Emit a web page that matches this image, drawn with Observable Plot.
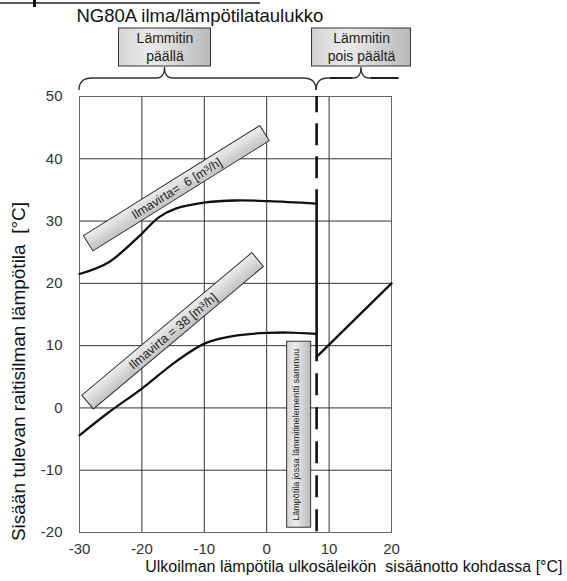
<!DOCTYPE html>
<html><head><meta charset="utf-8">
<script src="https://cdn.jsdelivr.net/npm/d3@7"></script>
<script src="https://cdn.jsdelivr.net/npm/@observablehq/plot@0.6"></script>
<style>body{margin:0;background:#fff} svg{display:block}</style>
</head><body><div id="chart"></div>
<script>
// ---- data ----
const xTicks = [-30, -20, -10, 0, 10, 20];
const yTicks = [-20, -10, 0, 10, 20, 30, 40, 50];

const flow6X  = [-30, -25.3, -20, -17.3, -14.6, -9.8, -5, 0.3, 8];
const flow6Y  = [21.5, 23.4, 28.0, 30.6, 32.0, 33.0, 33.3, 33.2, 32.8];
const flow38X = [-30, -25.3, -20, -14.6, -9.8, -5, 0.3, 3.5, 8];
const flow38Y = [-4.4, -0.7, 3.1, 7.4, 10.4, 11.6, 12.05, 12.1, 11.9];

const cutoffX = 8;
const offX = [8, 20];
const offY = [8.2, 20];

const titleText = "NG80A ilma/lämpötilataulukko";
const xLabel = "Ulkoilman lämpötila ulkosäleikön  sisäänotto kohdassa [°C]";
const yLabel = "Sisään tulevan raitisilman lämpötila  [°C]";

const heaterLabels = ["Lämmitin\npäällä", "Lämmitin\npois päältä"];
const heaterLabelX = [-16.3, 15.2];
const heaterRanges = [[-30, 8], [8, 21.2]];

const flowLabels = ["Ilmavirta=  6 [m³/h]", "Ilmavirta = 38 [m³/h]"];
const flowLabelX = [-14.4, -15.0];
const flowLabelY = [35.2, 12.3];
const flowLabelAngle = [-32, -40];

const cutoffLabel = "Lämpötila jossa lämmitinelementti sammuu";
const cutoffLabelX = 5.2;
const cutoffLabelY = -4.3;

// ---- tables ----
const flow6 = flow6X.map((x, i) => ({x, y: flow6Y[i]}));
const flow38 = flow38X.map((x, i) => ({x, y: flow38Y[i]}));
const offLine = offX.map((x, i) => ({x, y: offY[i]}));
const heaters = heaterLabels.map((t, i) => ({t, x: heaterLabelX[i]}));
const flows = flowLabels.map((t, i) => ({t, x: flowLabelX[i], y: flowLabelY[i], a: flowLabelAngle[i]}));

const yTop = 50, yBottom = -20;
const FONT = '"Liberation Sans", Arial, Helvetica, sans-serif';

const chart = Plot.plot({
  width: 567, height: 581,
  marginLeft: 79, marginRight: 176, marginTop: 96, marginBottom: 49,
  style: {fontFamily: FONT, fontSize: "15px", color: "#333", background: "#fff", overflow: "visible"},
  x: {domain: [-30, 20], ticks: xTicks, tickFormat: d => String(d), tickSize: 0, tickPadding: 11, label: null},
  y: {domain: [-20, 50], ticks: yTicks, tickFormat: d => String(d), tickSize: 0, tickPadding: 17, label: null},
  marks: [
    Plot.ruleX(xTicks, {stroke: "#333", strokeWidth: 1}),
    Plot.ruleY(yTicks, {stroke: "#333", strokeWidth: 1}),
    Plot.frame({stroke: "#666"}),
    Plot.line(flow6, {x: "x", y: "y", curve: "catmull-rom", stroke: "#111", strokeWidth: 2.3}),
    Plot.line(flow38, {x: "x", y: "y", curve: "catmull-rom", stroke: "#111", strokeWidth: 2.3}),
    Plot.line(offLine, {x: "x", y: "y", stroke: "#111", strokeWidth: 2.3}),
    Plot.ruleX([cutoffX], {x: d => d, y1: () => flow6Y[flow6Y.length - 1], y2: () => offY[0], stroke: "#111", strokeWidth: 2.6}),
    Plot.ruleX([cutoffX], {x: d => d, y1: () => flow6Y[flow6Y.length - 1], y2: () => yTop, stroke: "#111", strokeWidth: 2.6, strokeDasharray: "22,11", strokeDashoffset: 8}),
    Plot.ruleX([cutoffX], {x: d => d, y1: () => offY[0], y2: () => yBottom, stroke: "#111", strokeWidth: 2.6, strokeDasharray: "22,12", strokeDashoffset: 17}),
    // texts
    Plot.text([titleText], {text: d => d, frameAnchor: "top-left", textAnchor: "start", lineAnchor: "middle", dx: -3, dy: -80, fontSize: 18.5, fill: "#111"}),
    Plot.text([xLabel], {text: d => d, frameAnchor: "bottom-right", textAnchor: "end", lineAnchor: "middle", dx: 171, dy: 34, fontSize: 16, fill: "#111"}),
    Plot.text([yLabel], {text: d => d, frameAnchor: "left", textAnchor: "middle", lineAnchor: "middle", rotate: -90, dx: -61, dy: 57, fontSize: 19, fill: "#111"}),
    Plot.text(heaters, {x: "x", text: "t", frameAnchor: "top", lineAnchor: "middle", dy: -50, lineHeight: 1.28, fontSize: 14, fill: "#222"}),
    Plot.text([flows[0]], {x: "x", y: "y", text: "t", rotate: flows[0].a, fontSize: 12.5, fill: "#222"}),
    Plot.text([flows[1]], {x: "x", y: "y", text: "t", rotate: flows[1].a, fontSize: 12.5, fill: "#222"}),
    Plot.text([cutoffLabel], {x: () => cutoffLabelX, y: () => cutoffLabelY, text: d => d, rotate: -90, dx: -3, fontSize: 9, fill: "#222"})
  ]
});

document.getElementById("chart").appendChild(chart);

// ---- annotation boxes, drawn with the plot's scales ----
const svg = d3.select(chart);
const sx = chart.scale("x"), sy = chart.scale("y");
const X = v => sx.apply(v), Y = v => sy.apply(v);

const defs = svg.insert("defs", ":first-child");
const g1 = defs.append("linearGradient").attr("id", "gbox").attr("x1", 0).attr("x2", 1).attr("y1", 0).attr("y2", 0);
g1.append("stop").attr("offset", 0).attr("stop-color", "#d4d4d4");
g1.append("stop").attr("offset", 0.35).attr("stop-color", "#ececec");
g1.append("stop").attr("offset", 1).attr("stop-color", "#b9b9b9");
const g2 = defs.append("linearGradient").attr("id", "gbar").attr("x1", 0).attr("x2", 0).attr("y1", 0).attr("y2", 1);
g2.append("stop").attr("offset", 0).attr("stop-color", "#eeeeee");
g2.append("stop").attr("offset", 1).attr("stop-color", "#c2c2c2");

const firstText = chart.querySelector('g[aria-label="text"]');
const ann = svg.insert("g", () => firstText);

// heater state boxes
const heaterW = [92, 99];
heaters.forEach((h, i) => {
  ann.append("rect").attr("x", X(h.x) - heaterW[i] / 2).attr("y", 28).attr("width", heaterW[i]).attr("height", 38)
    .attr("fill", "url(#gbox)").attr("stroke", "#333").attr("stroke-width", 1);
});

// braces
function brace(x0, x1, xa) {
  const yb = 90, ym = 78, ya = 67;
  return `M${x0},${yb} Q${x0},${ym} ${x0 + 13},${ym} L${xa - 8},${ym} Q${xa},${ym} ${xa},${ya} Q${xa},${ym} ${xa + 8},${ym} L${x1 - 13},${ym} Q${x1},${ym} ${x1},${yb}`;
}
ann.append("path").attr("d", brace(X(heaterRanges[0][0]), X(heaterRanges[0][1]), X(heaterLabelX[0])))
  .attr("fill", "none").attr("stroke", "#333").attr("stroke-width", 1.3);
{
  const x0 = X(heaterRanges[1][0]), x1 = X(heaterRanges[1][1]), xa = X(heaterLabelX[1]);
  ann.append("path").attr("d", `M${x0},90 Q${x0},78 ${x0 + 12},78 L${xa - 8},78 Q${xa},78 ${xa},67 Q${xa},78 ${xa + 8},78 L${x1},78`)
    .attr("fill", "none").attr("stroke", "#333").attr("stroke-width", 1.3);
  ann.append("path").attr("d", `M${x0 + 14},78 L${xa - 9},78 M${xa + 10},78 L${x1},78`)
    .attr("fill", "none").attr("stroke", "#222").attr("stroke-width", 2.2);
}

// airflow label boxes
const flowW = [208, 222];
flows.forEach((f, i) => {
  ann.append("rect")
    .attr("transform", `translate(${X(f.x)},${Y(f.y)}) rotate(${f.a})`)
    .attr("x", -flowW[i] / 2).attr("y", -9).attr("width", flowW[i]).attr("height", 18)
    .attr("fill", "url(#gbar)").attr("stroke", "#333").attr("stroke-width", 1);
});

// cutoff label box
ann.append("rect").attr("x", X(cutoffLabelX) - 12).attr("y", Y(cutoffLabelY) - 93).attr("width", 24).attr("height", 186)
  .attr("fill", "url(#gbox)").attr("stroke", "#333").attr("stroke-width", 1);

// cropped header rule at the very top
svg.append("line").attr("x1", 0).attr("x2", 260).attr("y1", 3).attr("y2", 3).attr("stroke", "#222").attr("stroke-width", 1.5);
svg.append("rect").attr("x", 33).attr("y", 0).attr("width", 3).attr("height", 7).attr("fill", "#111");
</script>
</body></html>
